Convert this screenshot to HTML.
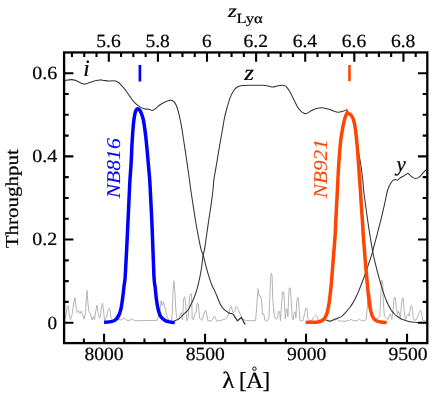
<!DOCTYPE html>
<html><head><meta charset="utf-8"><title>Filter throughput</title>
<style>
html,body{margin:0;padding:0;background:#fff;}
body{width:436px;height:394px;overflow:hidden;}
svg{display:block;}
text{font-family:"Liberation Serif",serif;fill:#000;stroke:#000;stroke-width:0.22px;}
</style></head><body>
<svg width="436" height="394" viewBox="0 0 436 394">
<rect x="0" y="0" width="436" height="394" fill="#fff"/>
<path d="M64.8,315.1 L65.6,318.3 L67.2,306.3 L68.3,305.5 L69.3,315.1 L70.4,319.6 L72.0,315.1 L73.6,303.9 L74.9,297.5 L76.1,307.1 L77.3,312.7 L78.5,310.6 L80.1,313.5 L81.2,311.1 L82.5,314.3 L84.1,319.1 L85.4,313.5 L86.2,300.7 L87.0,290.3 L87.8,302.3 L88.9,311.1 L90.8,315.1 L92.1,320.0 L93.4,316.7 L94.5,320.0 L95.6,311.9 L96.9,305.2 L98.2,313.5 L99.3,318.3 L100.5,315.9 L101.4,307.1 L102.5,303.1 L103.7,311.9 L104.6,320.8 L106.6,316.7 L108.2,309.5 L109.8,308.7 L111.1,318.3 L113.0,320.8 L115.4,317.5 L116.5,315.1 L117.8,319.1 L121.0,320.0 L124.2,318.0 L126.6,320.0 L128.2,320.8 L132.2,319.1 L134.6,320.8 L145.0,320.5 L157.1,320.4 L159.8,312.0 L161.1,300.7 L162.2,305.5 L163.5,301.5 L165.1,308.7 L167.1,316.7 L169.1,320.8 L171.6,320.0 L172.3,312.0 L173.0,292.0 L173.9,280.8 L174.9,292.0 L175.6,306.7 L176.5,316.5 L177.6,319.5 L178.8,320.0 L180.4,313.5 L181.5,312.7 L182.5,320.0 L183.6,299.1 L184.7,296.7 L185.7,303.9 L186.8,320.8 L188.4,316.7 L189.7,295.9 L190.8,293.5 L191.5,295.0 L192.2,318.3 L193.5,320.0 L194.8,313.5 L196.1,312.7 L197.2,303.1 L198.3,303.9 L199.6,318.3 L202.0,320.4 L204.1,313.5 L205.6,310.0 L206.9,315.1 L208.0,320.8 L211.7,320.8 L214.1,316.4 L215.4,317.1 L216.5,321.2 L222.1,320.0 L226.1,318.7 L228.2,315.1 L230.1,307.9 L231.4,306.8 L233.0,312.7 L234.6,311.9 L236.1,306.3 L237.7,307.9 L239.8,313.5 L242.2,319.1 L245.4,320.3 L251.0,320.8 L255.6,320.4 L256.7,307.1 L258.0,288.6 L259.0,295.9 L260.4,295.9 L261.6,300.7 L262.5,314.3 L263.6,313.5 L264.9,320.0 L266.9,321.2 L268.9,318.3 L270.1,291.1 L270.8,275.5 L271.4,273.2 L272.1,276.0 L272.8,299.1 L274.1,315.1 L275.7,319.1 L277.3,318.3 L278.6,311.1 L279.7,311.9 L280.5,320.8 L281.6,303.9 L282.6,291.9 L283.7,291.9 L284.7,307.1 L285.3,319.1 L286.4,308.7 L287.2,309.5 L287.9,316.7 L288.5,299.1 L289.3,287.8 L290.5,288.6 L291.4,303.9 L292.2,318.3 L293.3,320.0 L294.1,312.7 L295.3,311.9 L295.9,318.3 L296.6,303.9 L297.4,297.5 L298.5,298.3 L299.3,311.9 L300.1,320.8 L303.0,320.8 L304.6,313.5 L305.7,308.2 L307.0,309.0 L307.8,318.3 L309.4,320.4 L311.8,320.4 L313.4,317.5 L315.5,315.1 L317.1,316.7 L318.2,320.4 L330.0,320.8 L334.0,320.4 L336.8,319.3 L339.5,320.9 L345.0,321.3 L349.2,320.4 L351.2,319.3 L353.3,320.9 L357.4,320.4 L359.5,319.3 L361.5,320.9 L365.0,320.6 L366.2,319.3 L366.9,311.3 L368.3,296.4 L369.6,293.1 L370.7,296.4 L371.6,310.0 L372.5,319.0 L375.0,319.8 L378.2,317.9 L379.8,316.2 L380.8,294.8 L381.8,279.9 L382.8,283.2 L383.4,303.0 L384.4,316.2 L386.4,317.9 L388.1,319.5 L389.4,314.6 L390.5,313.8 L391.7,319.5 L393.0,311.3 L394.0,298.1 L395.2,297.2 L396.3,308.0 L397.5,314.6 L398.5,311.3 L399.3,312.9 L400.3,319.5 L401.3,306.3 L402.3,298.1 L403.3,298.1 L404.2,311.3 L405.4,319.5 L407.1,315.4 L408.4,313.8 L409.2,316.2 L410.4,308.0 L411.2,305.5 L412.2,307.1 L413.2,317.9 L414.5,320.4 L416.5,319.5 L417.8,316.2 L419.4,312.1 L420.6,310.4 L421.6,312.9 L422.7,320.4 L426.0,321.2" fill="none" stroke="#b4b4b4" stroke-width="1" stroke-linejoin="round"/>
<path d="M64.80,80.50 C65.87,80.35 69.33,79.60 71.20,79.60 C73.07,79.60 74.53,80.00 76.00,80.50 C77.47,81.00 78.65,82.00 80.00,82.60 C81.35,83.20 82.77,84.00 84.10,84.10 C85.43,84.20 86.67,83.60 88.00,83.20 C89.33,82.80 90.77,82.15 92.10,81.70 C93.43,81.25 94.67,80.80 96.00,80.50 C97.33,80.20 98.77,79.92 100.10,79.90 C101.43,79.88 102.65,80.22 104.00,80.40 C105.35,80.58 106.87,80.93 108.20,81.00 C109.53,81.07 110.80,80.80 112.00,80.80 C113.20,80.80 114.32,80.72 115.40,81.00 C116.48,81.28 117.57,81.85 118.50,82.50 C119.43,83.15 119.78,83.57 121.00,84.90 C122.22,86.23 124.30,88.55 125.80,90.50 C127.30,92.45 128.57,94.62 130.00,96.60 C131.43,98.58 132.85,100.77 134.40,102.40 C135.95,104.03 137.68,105.33 139.30,106.40 C140.92,107.47 142.50,108.32 144.10,108.80 C145.70,109.28 147.57,109.03 148.90,109.30 C150.23,109.57 151.03,110.48 152.10,110.40 C153.17,110.32 153.97,109.73 155.30,108.80 C156.63,107.87 158.48,105.95 160.10,104.80 C161.72,103.65 163.38,102.65 165.00,101.90 C166.62,101.15 168.60,100.55 169.80,100.30 C171.00,100.05 171.40,100.05 172.20,100.40 C173.00,100.75 173.80,101.27 174.60,102.40 C175.40,103.53 176.33,105.47 177.00,107.20 C177.67,108.93 178.03,110.57 178.60,112.80 C179.17,115.03 179.82,117.73 180.40,120.60 C180.98,123.47 181.43,125.90 182.10,130.00 C182.77,134.10 183.63,140.12 184.40,145.20 C185.17,150.28 185.95,155.42 186.70,160.50 C187.45,165.58 188.22,170.78 188.90,175.70 C189.58,180.62 190.10,185.08 190.80,190.00 C191.50,194.92 192.32,200.12 193.10,205.20 C193.88,210.28 194.65,215.42 195.50,220.50 C196.35,225.58 197.27,230.83 198.20,235.70 C199.13,240.57 200.28,246.55 201.10,249.70 C201.92,252.85 202.33,252.02 203.10,254.60 C203.87,257.18 204.77,261.65 205.70,265.20 C206.63,268.75 207.68,272.60 208.70,275.90 C209.72,279.20 210.78,282.47 211.80,285.00 C212.82,287.53 213.87,289.07 214.80,291.10 C215.73,293.13 216.50,295.03 217.40,297.20 C218.30,299.37 219.23,302.20 220.20,304.10 C221.17,306.00 221.82,307.17 223.20,308.60 C224.58,310.03 226.87,311.80 228.50,312.70 C230.13,313.60 232.25,313.78 233.00,314.00" fill="none" stroke="#333" stroke-width="1.05"/>
<path d="M233.0,314.0 L237.4,320.8 L241.4,317.5 L245.1,324.4" fill="none" stroke="#333" stroke-width="1.3" stroke-linejoin="miter"/>
<path d="M174.50,321.00 C175.35,320.55 178.08,319.42 179.60,318.30 C181.12,317.18 182.17,315.73 183.60,314.30 C185.03,312.87 186.93,311.40 188.20,309.70 C189.47,308.00 190.18,306.18 191.20,304.10 C192.22,302.02 193.28,299.87 194.30,297.20 C195.32,294.53 196.33,291.65 197.30,288.10 C198.27,284.55 199.33,279.72 200.10,275.90 C200.87,272.08 201.40,268.75 201.90,265.20 C202.40,261.65 202.67,257.18 203.10,254.60 C203.53,252.02 203.93,252.85 204.50,249.70 C205.07,246.55 205.80,240.57 206.50,235.70 C207.20,230.83 207.95,225.58 208.70,220.50 C209.45,215.42 210.28,210.28 211.00,205.20 C211.72,200.12 212.53,194.15 213.00,190.00 C213.47,185.85 213.37,183.70 213.80,180.30 C214.23,176.90 214.92,173.67 215.60,169.60 C216.28,165.53 217.13,160.47 217.90,155.90 C218.67,151.33 219.45,146.52 220.20,142.20 C220.95,137.88 221.73,133.78 222.40,130.00 C223.07,126.22 223.55,122.75 224.20,119.50 C224.85,116.25 225.32,114.10 226.30,110.50 C227.28,106.90 228.83,101.27 230.10,97.90 C231.37,94.53 232.63,92.15 233.90,90.30 C235.17,88.45 236.23,87.60 237.70,86.80 C239.17,86.00 240.18,85.75 242.70,85.50 C245.22,85.25 249.43,85.33 252.80,85.30 C256.17,85.27 260.38,85.18 262.90,85.30 C265.42,85.42 266.22,85.72 267.90,86.00 C269.58,86.28 271.52,87.00 273.00,87.00 C274.48,87.00 275.33,86.28 276.80,86.00 C278.27,85.72 280.52,85.37 281.80,85.30 C283.08,85.23 283.72,85.35 284.50,85.60 C285.28,85.85 285.65,85.85 286.50,86.80 C287.35,87.75 288.42,89.25 289.60,91.30 C290.78,93.35 292.27,96.48 293.60,99.10 C294.93,101.72 296.43,105.05 297.60,107.00 C298.77,108.95 299.62,109.80 300.60,110.80 C301.58,111.80 302.53,112.53 303.50,113.00 C304.47,113.47 305.12,113.97 306.40,113.60 C307.68,113.23 309.52,111.65 311.20,110.80 C312.88,109.95 314.63,109.02 316.50,108.50 C318.37,107.98 320.20,107.52 322.40,107.70 C324.60,107.88 327.15,108.85 329.70,109.60 C332.25,110.35 335.42,111.97 337.70,112.20 C339.98,112.43 341.88,111.37 343.40,111.00 C344.92,110.63 345.87,109.50 346.80,110.00 C347.73,110.50 348.22,112.97 349.00,114.00 C349.78,115.03 350.75,115.15 351.50,116.20 C352.25,117.25 352.92,118.58 353.50,120.30 C354.08,122.02 354.47,123.63 355.00,126.50 C355.53,129.37 356.15,133.58 356.70,137.50 C357.25,141.42 357.78,146.43 358.30,150.00 C358.82,153.57 359.30,155.88 359.80,158.90 C360.30,161.92 360.80,164.53 361.30,168.10 C361.80,171.67 362.42,176.65 362.80,180.30 C363.18,183.95 363.13,185.85 363.60,190.00 C364.07,194.15 364.92,200.12 365.60,205.20 C366.28,210.28 366.97,215.42 367.70,220.50 C368.43,225.58 369.17,230.53 370.00,235.70 C370.83,240.87 371.87,247.08 372.70,251.50 C373.53,255.92 374.10,258.38 375.00,262.20 C375.90,266.02 377.08,270.60 378.10,274.40 C379.12,278.20 380.08,281.58 381.10,285.00 C382.12,288.42 383.18,291.98 384.20,294.90 C385.22,297.82 386.07,300.03 387.20,302.50 C388.33,304.97 389.87,307.87 391.00,309.70 C392.13,311.53 392.98,312.42 394.00,313.50 C395.02,314.58 395.75,315.25 397.10,316.20 C398.45,317.15 400.30,318.37 402.10,319.20 C403.90,320.03 405.83,320.68 407.90,321.20 C409.97,321.72 411.48,322.03 414.50,322.30 C417.52,322.57 424.08,322.72 426.00,322.80" fill="none" stroke="#333" stroke-width="1.05"/>
<path d="M326.30,319.80 C326.52,319.93 327.00,320.37 327.60,320.60 C328.20,320.83 328.83,321.38 329.90,321.20 C330.97,321.02 332.63,320.05 334.00,319.50 C335.37,318.95 336.83,318.38 338.10,317.90 C339.37,317.42 340.45,317.40 341.60,316.60 C342.75,315.80 343.73,314.48 345.00,313.10 C346.27,311.72 347.93,309.92 349.20,308.30 C350.47,306.68 351.60,305.00 352.60,303.40 C353.60,301.80 354.13,300.87 355.20,298.70 C356.27,296.53 357.73,293.43 359.00,290.40 C360.27,287.37 361.53,283.93 362.80,280.50 C364.07,277.07 365.45,273.10 366.60,269.80 C367.75,266.50 368.68,263.75 369.70,260.70 C370.72,257.65 372.00,253.90 372.70,251.50 C373.40,249.10 373.08,249.45 373.90,246.30 C374.72,243.15 376.33,237.42 377.60,232.60 C378.87,227.78 380.27,222.47 381.50,217.40 C382.73,212.33 384.00,206.68 385.00,202.20 C386.00,197.72 386.62,193.53 387.50,190.50 C388.38,187.47 389.33,185.72 390.30,184.00 C391.27,182.28 392.42,180.95 393.30,180.20 C394.18,179.45 394.90,179.48 395.60,179.50 C396.30,179.52 396.85,180.48 397.50,180.30 C398.15,180.12 398.48,179.12 399.50,178.40 C400.52,177.68 402.25,176.83 403.60,176.00 C404.95,175.17 406.58,173.60 407.60,173.40 C408.62,173.20 408.85,174.13 409.70,174.80 C410.55,175.47 411.70,176.80 412.70,177.40 C413.70,178.00 414.68,178.40 415.70,178.40 C416.72,178.40 417.78,178.07 418.80,177.40 C419.82,176.73 420.78,175.48 421.80,174.40 C422.82,173.32 424.05,171.75 424.90,170.90 C425.75,170.05 426.57,169.57 426.90,169.30" fill="none" stroke="#333" stroke-width="1.05"/>
<path d="M104.10,322.40 C105.32,322.27 109.52,322.00 111.40,321.60 C113.28,321.20 114.20,320.95 115.40,320.00 C116.60,319.05 117.67,317.78 118.60,315.90 C119.53,314.02 120.28,312.03 121.00,308.70 C121.72,305.37 122.37,299.92 122.90,295.90 C123.43,291.88 123.80,288.08 124.20,284.60 C124.60,281.12 124.73,284.10 125.30,275.00 C125.87,265.90 126.87,245.08 127.60,230.00 C128.33,214.92 129.12,195.58 129.70,184.50 C130.28,173.42 130.68,170.80 131.10,163.50 C131.52,156.20 131.78,147.55 132.20,140.70 C132.62,133.85 133.10,127.08 133.60,122.40 C134.10,117.72 134.62,114.83 135.20,112.60 C135.78,110.37 136.43,109.52 137.10,109.00 C137.77,108.48 138.53,108.87 139.20,109.50 C139.87,110.13 140.40,111.03 141.10,112.80 C141.80,114.57 142.63,116.22 143.40,120.10 C144.17,123.98 145.02,130.38 145.70,136.10 C146.38,141.82 146.97,148.68 147.50,154.40 C148.03,160.12 148.48,165.38 148.90,170.40 C149.32,175.42 149.48,175.40 150.00,184.50 C150.52,193.60 151.35,209.92 152.00,225.00 C152.65,240.08 153.37,264.53 153.90,275.00 C154.43,285.47 154.75,283.52 155.20,287.80 C155.65,292.08 156.07,296.95 156.60,300.70 C157.13,304.45 157.73,307.68 158.40,310.30 C159.07,312.92 159.62,314.78 160.60,316.40 C161.58,318.02 162.88,319.08 164.30,320.00 C165.72,320.92 167.35,321.48 169.10,321.90 C170.85,322.32 173.85,322.40 174.80,322.50" fill="none" stroke="#0000ff" stroke-width="3.5" stroke-linejoin="round"/>
<path d="M305.60,322.40 C307.62,322.32 314.83,322.28 317.70,321.90 C320.57,321.52 321.32,321.37 322.80,320.10 C324.28,318.83 325.55,317.17 326.60,314.30 C327.65,311.43 328.38,307.32 329.10,302.90 C329.82,298.48 330.35,293.27 330.90,287.80 C331.45,282.33 331.95,275.57 332.40,270.10 C332.85,264.63 333.15,260.73 333.60,255.00 C334.05,249.27 334.67,242.73 335.10,235.70 C335.53,228.67 335.82,220.42 336.20,212.80 C336.58,205.18 336.97,198.22 337.40,190.00 C337.83,181.78 338.25,171.72 338.80,163.50 C339.35,155.28 340.10,146.33 340.70,140.70 C341.30,135.07 341.87,132.78 342.40,129.70 C342.93,126.62 343.37,124.48 343.90,122.20 C344.43,119.92 345.05,117.48 345.60,116.00 C346.15,114.52 346.60,113.65 347.20,113.30 C347.80,112.95 348.52,113.53 349.20,113.90 C349.88,114.27 350.65,114.70 351.30,115.50 C351.95,116.30 352.57,117.28 353.10,118.70 C353.63,120.12 354.08,122.03 354.50,124.00 C354.92,125.97 355.17,126.97 355.60,130.50 C356.03,134.03 356.65,140.20 357.10,145.20 C357.55,150.20 357.93,155.42 358.30,160.50 C358.67,165.58 358.95,170.78 359.30,175.70 C359.65,180.62 360.07,185.08 360.40,190.00 C360.73,194.92 360.97,200.12 361.30,205.20 C361.63,210.28 362.07,215.42 362.40,220.50 C362.73,225.58 362.97,230.83 363.30,235.70 C363.63,240.57 364.02,244.78 364.40,249.70 C364.78,254.62 365.17,260.07 365.60,265.20 C366.03,270.33 366.52,275.42 367.00,280.50 C367.48,285.58 367.97,291.03 368.50,295.70 C369.03,300.37 369.55,305.08 370.20,308.50 C370.85,311.92 371.48,314.22 372.40,316.20 C373.32,318.18 374.33,319.43 375.70,320.40 C377.07,321.37 378.77,321.65 380.60,322.00 C382.43,322.35 385.68,322.42 386.70,322.50" fill="none" stroke="#ff4500" stroke-width="3.5" stroke-linejoin="round"/>
<path d="M345.6,113.6 L346.9,108.0 L348.6,113 Z" fill="#ff4500"/>
<line x1="139.9" y1="65" x2="139.9" y2="81.5" stroke="#0000ff" stroke-width="2.7"/>
<line x1="349.5" y1="65" x2="349.5" y2="81.2" stroke="#ff4500" stroke-width="2.6"/>
<rect x="64.10" y="52.45" width="363.20" height="290.65" fill="none" stroke="#000" stroke-width="2.3"/>
<path d="M83.87,343.10 L83.87,338.50 M104.07,343.10 L104.07,333.80 M124.27,343.10 L124.27,338.50 M144.46,343.10 L144.46,338.50 M164.66,343.10 L164.66,338.50 M184.86,343.10 L184.86,338.50 M205.06,343.10 L205.06,333.80 M225.25,343.10 L225.25,338.50 M245.45,343.10 L245.45,338.50 M265.65,343.10 L265.65,338.50 M285.84,343.10 L285.84,338.50 M306.04,343.10 L306.04,333.80 M326.24,343.10 L326.24,338.50 M346.43,343.10 L346.43,338.50 M366.63,343.10 L366.63,338.50 M386.83,343.10 L386.83,338.50 M407.03,343.10 L407.03,333.80 M71.97,52.45 L71.97,57.05 M84.25,52.45 L84.25,57.05 M96.52,52.45 L96.52,57.05 M108.80,52.45 L108.80,61.75 M121.08,52.45 L121.08,57.05 M133.35,52.45 L133.35,57.05 M145.63,52.45 L145.63,57.05 M157.91,52.45 L157.91,61.75 M170.18,52.45 L170.18,57.05 M182.46,52.45 L182.46,57.05 M194.74,52.45 L194.74,57.05 M207.01,52.45 L207.01,61.75 M219.29,52.45 L219.29,57.05 M231.56,52.45 L231.56,57.05 M243.84,52.45 L243.84,57.05 M256.12,52.45 L256.12,61.75 M268.39,52.45 L268.39,57.05 M280.67,52.45 L280.67,57.05 M292.95,52.45 L292.95,57.05 M305.22,52.45 L305.22,61.75 M317.50,52.45 L317.50,57.05 M329.78,52.45 L329.78,57.05 M342.05,52.45 L342.05,57.05 M354.33,52.45 L354.33,61.75 M366.61,52.45 L366.61,57.05 M378.88,52.45 L378.88,57.05 M391.16,52.45 L391.16,57.05 M403.44,52.45 L403.44,61.75 M415.71,52.45 L415.71,57.05 M64.10,322.70 L73.40,322.70 M427.30,322.70 L418.00,322.70 M64.10,301.91 L68.70,301.91 M427.30,301.91 L422.70,301.91 M64.10,281.12 L68.70,281.12 M427.30,281.12 L422.70,281.12 M64.10,260.33 L68.70,260.33 M427.30,260.33 L422.70,260.33 M64.10,239.53 L73.40,239.53 M427.30,239.53 L418.00,239.53 M64.10,218.74 L68.70,218.74 M427.30,218.74 L422.70,218.74 M64.10,197.95 L68.70,197.95 M427.30,197.95 L422.70,197.95 M64.10,177.16 L68.70,177.16 M427.30,177.16 L422.70,177.16 M64.10,156.37 L73.40,156.37 M427.30,156.37 L418.00,156.37 M64.10,135.58 L68.70,135.58 M427.30,135.58 L422.70,135.58 M64.10,114.78 L68.70,114.78 M427.30,114.78 L422.70,114.78 M64.10,93.99 L68.70,93.99 M427.30,93.99 L422.70,93.99 M64.10,73.20 L73.40,73.20 M427.30,73.20 L418.00,73.20 " fill="none" stroke="#000" stroke-width="2.1"/>
<g style="will-change:transform;text-rendering:geometricPrecision">
<text x="104.0" y="359.8" font-size="18.6" text-anchor="middle" textLength="39.2" lengthAdjust="spacingAndGlyphs">8000</text>
<text x="205.3" y="359.8" font-size="18.6" text-anchor="middle" textLength="39.2" lengthAdjust="spacingAndGlyphs">8500</text>
<text x="306.7" y="359.8" font-size="18.6" text-anchor="middle" textLength="39.2" lengthAdjust="spacingAndGlyphs">9000</text>
<text x="408.0" y="359.8" font-size="18.6" text-anchor="middle" textLength="39.2" lengthAdjust="spacingAndGlyphs">9500</text>
<text x="108.5" y="47.0" font-size="18.6" text-anchor="middle" textLength="24.4" lengthAdjust="spacingAndGlyphs">5.6</text>
<text x="157.6" y="47.0" font-size="18.6" text-anchor="middle" textLength="24.4" lengthAdjust="spacingAndGlyphs">5.8</text>
<text x="206.7" y="47.0" font-size="18.6" text-anchor="middle" textLength="9.6" lengthAdjust="spacingAndGlyphs">6</text>
<text x="255.8" y="47.0" font-size="18.6" text-anchor="middle" textLength="24.4" lengthAdjust="spacingAndGlyphs">6.2</text>
<text x="304.9" y="47.0" font-size="18.6" text-anchor="middle" textLength="24.4" lengthAdjust="spacingAndGlyphs">6.4</text>
<text x="354.0" y="47.0" font-size="18.6" text-anchor="middle" textLength="24.4" lengthAdjust="spacingAndGlyphs">6.6</text>
<text x="403.1" y="47.0" font-size="18.6" text-anchor="middle" textLength="24.4" lengthAdjust="spacingAndGlyphs">6.8</text>
<text x="57.2" y="328.5" font-size="18.6" text-anchor="end" textLength="9.6" lengthAdjust="spacingAndGlyphs">0</text>
<text x="57.2" y="245.3" font-size="18.6" text-anchor="end" textLength="25.0" lengthAdjust="spacingAndGlyphs">0.2</text>
<text x="57.2" y="162.2" font-size="18.6" text-anchor="end" textLength="25.0" lengthAdjust="spacingAndGlyphs">0.4</text>
<text x="57.2" y="79.0" font-size="18.6" text-anchor="end" textLength="25.0" lengthAdjust="spacingAndGlyphs">0.6</text>
<text x="222.2" y="387.6" font-size="23.4" textLength="12.2" lengthAdjust="spacingAndGlyphs">λ</text><text x="238.9" y="387.7" font-size="23">[</text><text x="245.9" y="387.6" font-size="23" textLength="17.4" lengthAdjust="spacingAndGlyphs" stroke="#000" stroke-width="0.25">A</text><circle cx="254.4" cy="368.7" r="1.75" fill="none" stroke="#000" stroke-width="0.95"/><text x="262.5" y="387.7" font-size="23">]</text>
<text transform="translate(18.1,248.2) rotate(-90)" font-size="18.2" textLength="99" lengthAdjust="spacingAndGlyphs">Throughput</text>
<text x="227.9" y="17.4" font-size="18.6" font-style="italic" textLength="8.7" lengthAdjust="spacingAndGlyphs">z</text>
<text x="236.6" y="22.6" font-size="14" textLength="26.2" lengthAdjust="spacingAndGlyphs">Lyα</text>
<text x="83.3" y="76" font-size="23.4" font-style="italic">i</text>
<text x="244.2" y="80.2" font-size="22" font-style="italic" textLength="9.6" lengthAdjust="spacingAndGlyphs">z</text>
<text x="396.6" y="170.6" font-size="21" font-style="italic">y</text>
<text transform="translate(120.4,198.3) rotate(-90)" font-size="19.5" font-style="italic" style="fill:#0000ff;stroke:#0000ff;stroke-width:0.08px" textLength="60" lengthAdjust="spacingAndGlyphs">NB816</text>
<text transform="translate(326.5,198.3) rotate(-90)" font-size="19.5" font-style="italic" style="fill:#ff4500;stroke:#ff4500;stroke-width:0.08px" textLength="59.2" lengthAdjust="spacingAndGlyphs">NB921</text>
</g>
</svg>
</body></html>
